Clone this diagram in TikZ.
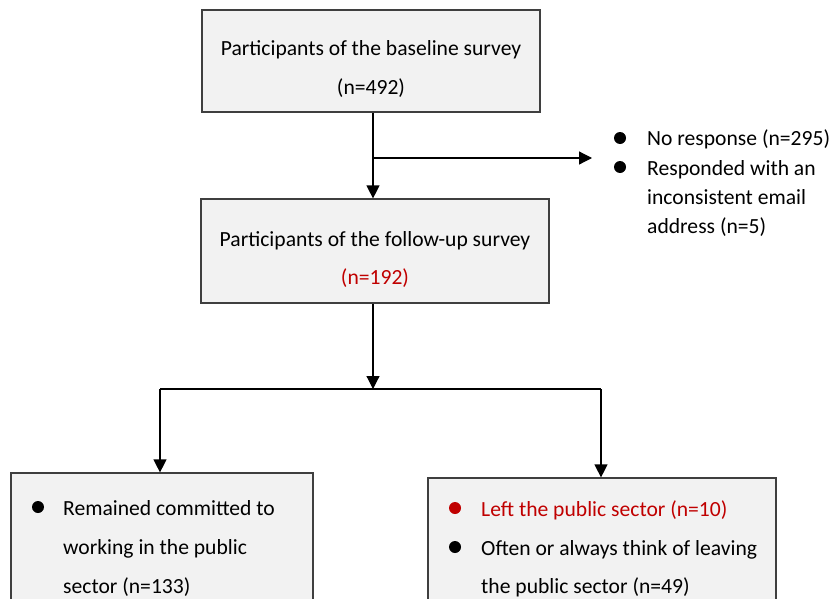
\documentclass[tikz,border=0pt]{standalone}
\usepackage{fontspec}
\setmainfont{Carlito}
\usetikzlibrary{arrows.meta}
\definecolor{boxfill}{HTML}{F2F2F2}
\definecolor{boxline}{HTML}{3F3F3F}
\definecolor{myred}{HTML}{C00000}
\tikzset{
  box/.style={draw=boxline, fill=boxfill, line width=1.2pt, minimum width=#1, inner sep=0pt},
  txt/.style={font=\fontsize{21.6}{26}\selectfont, inner sep=0pt, anchor=base west},
  ctxt/.style={font=\fontsize{21.6}{26}\selectfont, inner sep=0pt, anchor=base},
  dot/.style={circle, fill=#1, inner sep=0pt, minimum size=12pt},
  conn/.style={line width=1.2pt, draw=black},
  arr/.style={conn, -{Triangle[length=13pt,width=13pt]}},
}
\begin{document}
\begin{tikzpicture}[x=1pt,y=-1pt]
\clip (0,0) rectangle (829,599);
\fill[white] (0,0) rectangle (829,599);
% boxes
\node[box=338pt, minimum height=102pt] (b1) at (371,61) {};
\node[box=348pt, minimum height=104pt] (b2) at (375,251) {};
\node[box=302pt, minimum height=150pt] (b3) at (162,548) {};
\node[box=348pt, minimum height=150pt] (b4) at (602,553) {};
% texts box 1
\node[ctxt] (t1a) at (371,56) {Participants of the baseline survey};
\node[ctxt] (t1b) at (371,95) {(n=492)};
% texts box 2
\node[ctxt] (t2a) at (375,246) {Participants of the follow-up survey};
\node[ctxt, text=myred] (t2b) at (375,284) {(n=192)};
% side list
\node[dot=black] (d1) at (620,138) {};
\node[txt] (s1) at (647,146) {No response (n=295)};
\node[dot=black] (d2) at (620,167) {};
\node[txt] (s2) at (647,175) {Responded with an};
\node[txt] (s3) at (647,204) {inconsistent email};
\node[txt] (s4) at (647,233) {address (n=5)};
% box 3
\node[dot=black] (d3) at (38,507) {};
\node[txt] (u1) at (63,515) {Remained committed to};
\node[txt] (u2) at (63,554) {working in the public};
\node[txt] (u3) at (63,593) {sector (n=133)};
% box 4
\node[dot=myred] (d4) at (455,508) {};
\node[txt, text=myred] (v1) at (481,516) {Left the public sector (n=10)};
\node[dot=black] (d5) at (455,547) {};
\node[txt] (v2) at (481,555) {Often or always think of leaving};
\node[txt] (v3) at (481,593) {the public sector (n=49)};
% connectors
\coordinate (j1) at (373,158);
\coordinate (e1) at (592,158);
\coordinate (j2) at (373,389);
\coordinate (jl) at (160,389);
\coordinate (jr) at (601,389);
\draw[arr] (b1.south -| j1) -- (b2.north -| j1);
\draw[arr] (j1) -- (e1);
\draw[arr] (b2.south -| j2) -- (j2);
\draw[conn] (jl) -- (jr);
\draw[arr] (jl) -- (b3.north -| jl);
\draw[arr] (jr) -- (b4.north -| jr);
\end{tikzpicture}
\end{document}
